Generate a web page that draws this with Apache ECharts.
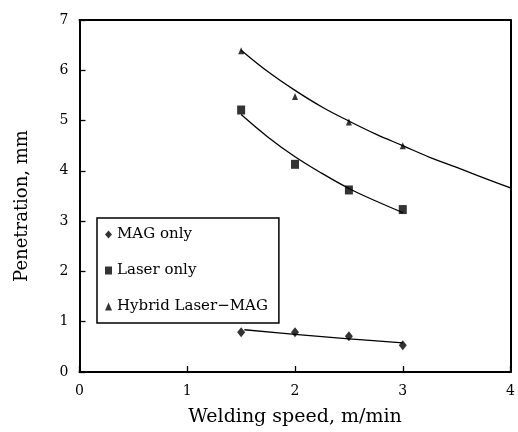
<!DOCTYPE html>
<html>
<head>
<meta charset="utf-8">
<script src="https://cdn.jsdelivr.net/npm/echarts@6/dist/echarts.min.js"></script>
<style>
html,body{margin:0;padding:0;background:#fff;}
#c{width:518px;height:432px;}
</style>
</head>
<body>
<div id="c"></div>
<script>
// measured points
const speeds = [1.5, 2, 2.5, 3];
const magOnly = [0.79, 0.79, 0.71, 0.53];
const laserOnly = [5.21, 4.13, 3.62, 3.23];
const hybrid = [6.39, 5.48, 4.97, 4.50];

// fitted curves
const hybridFitX = [1.5, 1.75, 2, 2.25, 2.5, 2.75, 3, 3.25, 3.5, 3.75, 4];
const hybridFit = [6.40, 5.97, 5.60, 5.27, 4.99, 4.73, 4.50, 4.27, 4.07, 3.86, 3.66];
const laserFitX = [1.5, 1.75, 2, 2.25, 2.5, 2.75, 3];
const laserFit = [5.12, 4.67, 4.28, 3.95, 3.65, 3.40, 3.17];
const magFitX = [1.53, 2, 2.5, 3];
const magFit = [0.84, 0.75, 0.66, 0.58];

const xTicks = [0, 1, 2, 3, 4];
const yTicks = [0, 1, 2, 3, 4, 5, 6, 7];

const legendNames = ['MAG only', 'Laser only', 'Hybrid Laser\u2212MAG'];

const FONT = 'DejaVu Serif';
const zip = (xs, ys) => xs.map((x, i) => [x, ys[i]]);

const chart = echarts.init(document.getElementById('c'), null, {renderer: 'canvas'});
const lineStyle = {color: '#000', width: 1.3};
const fitSeries = (name, xs, ys) => ({
  name: name, type: 'line', data: zip(xs, ys), smooth: 0.4, showSymbol: false,
  symbol: 'none', lineStyle: lineStyle, silent: true, z: 2
});

chart.setOption({
  animation: false,
  backgroundColor: '#fff',
  grid: {left: 79.5, right: 4.5, top: 20, bottom: 59.5},
  legend: {
    data: [
      {name: legendNames[0], icon: 'diamond'},
      {name: legendNames[1], icon: 'rect'},
      {name: legendNames[2], icon: 'triangle'}
    ],
    orient: 'vertical',
    left: 97, top: 218,
    padding: [9, 11, 9, 8],
    itemWidth: 7, itemHeight: 8, itemGap: 21,
    borderColor: '#000', borderWidth: 1.5,
    backgroundColor: '#fff',
    textStyle: {fontFamily: FONT, fontSize: 15, color: '#000', lineHeight: 14},
    selectedMode: false
  },
  xAxis: [{
    type: 'value', min: 0, max: 4, interval: 1,
    name: 'Welding speed, m/min', nameLocation: 'middle', nameGap: 36,
    nameTextStyle: {fontFamily: FONT, fontSize: 19, color: '#000'},
    axisLine: {show: true, lineStyle: {color: '#000', width: 2}},
    axisTick: {show: true, inside: true, length: 6, lineStyle: {color: '#000', width: 1.3}},
    axisLabel: {fontFamily: FONT, fontSize: 14, color: '#000', margin: 12,
      formatter: v => xTicks.includes(v) ? String(v) : ''},
    splitLine: {show: false}
  }, {
    type: 'value', min: 0, max: 4, interval: 1, position: 'top',
    axisLine: {show: true, onZero: false, lineStyle: {color: '#000', width: 2}},
    axisTick: {show: false}, axisLabel: {show: false}, splitLine: {show: false}
  }],
  yAxis: [{
    type: 'value', min: 0, max: 7, interval: 1,
    axisLine: {show: true, lineStyle: {color: '#000', width: 2}},
    axisTick: {show: true, inside: true, length: 6, lineStyle: {color: '#000', width: 1.3}},
    axisLabel: {fontFamily: FONT, fontSize: 14, color: '#000', margin: 11,
      formatter: v => yTicks.includes(v) ? String(v) : ''},
    splitLine: {show: false}
  }, {
    type: 'value', min: 0, max: 7, interval: 1, position: 'right',
    axisLine: {show: true, onZero: false, lineStyle: {color: '#000', width: 2}},
    axisTick: {show: false}, axisLabel: {show: false}, splitLine: {show: false}
  }],
  graphic: [{
    type: 'text', x: 22, y: 206, rotation: Math.PI / 2,
    style: {text: 'Penetration, mm', fontFamily: FONT, fontSize: 18, fill: '#000',
      textAlign: 'center', textVerticalAlign: 'middle'},
    silent: true
  }],
  series: [
    fitSeries('magFit', magFitX, magFit),
    fitSeries('laserFit', laserFitX, laserFit),
    fitSeries('hybridFit', hybridFitX, hybridFit),
    {name: legendNames[0], type: 'scatter', data: zip(speeds, magOnly), symbol: 'diamond',
      symbolSize: [8, 10], itemStyle: {color: '#000'}, z: 3},
    {name: legendNames[1], type: 'scatter', data: zip(speeds, laserOnly), symbol: 'rect',
      symbolSize: [8, 9], itemStyle: {color: '#000'}, z: 3},
    {name: legendNames[2], type: 'scatter', data: zip(speeds, hybrid), symbol: 'triangle',
      symbolSize: [6, 7], itemStyle: {color: '#000'}, z: 3}
  ]
});
</script>
</body>
</html>
